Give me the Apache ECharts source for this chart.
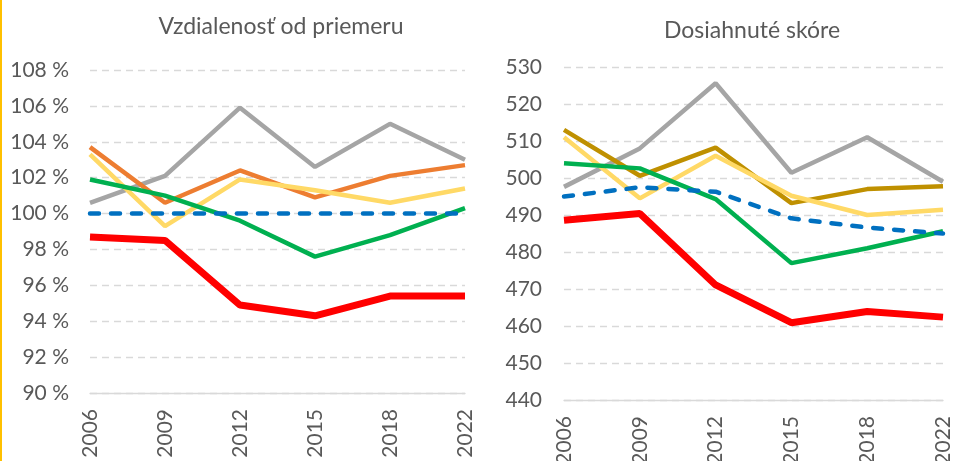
<!DOCTYPE html>
<html>
<head>
<meta charset="utf-8">
<script src="https://cdn.jsdelivr.net/npm/echarts@6/dist/echarts.min.js"></script>
<style>
  html, body { margin: 0; padding: 0; background: #fff; }
  #wrap { width: 958px; height: 461px; position: relative; }
  #bar { position: absolute; left: 0; top: 0; width: 2px; height: 461px; background: #FFC000; }
  #chart { width: 958px; height: 461px; }
</style>
</head>
<body>
<div id="wrap">
  <div id="chart"></div>
  <div id="bar"></div>
</div>
<script>
  // roky
  var years = ['2006', '2009', '2012', '2015', '2018', '2022']

  // vzdialenost od priemeru (%)
  var distGray = [100.6, 102.1, 105.9, 102.6, 105.0, 103.0]
  var distOrange = [103.7, 100.6, 102.4, 100.9, 102.1, 102.7]
  var distYellow = [103.3, 99.3, 101.9, 101.3, 100.6, 101.4]
  var distGreen = [101.9, 101.0, 99.6, 97.6, 98.8, 100.3]
  var distBlue = [100, 100, 100, 100, 100, 100]
  var distRed = [98.7, 98.5, 94.9, 94.3, 95.4, 95.4]

  // dosiahnute skore
  var scoreGray = [497.6, 508, 525.6, 501.4, 511, 499]
  var scoreGold = [513, 500.6, 508.2, 493.2, 497, 497.8]
  var scoreYellow = [511, 494.5, 506, 495.2, 490, 491.4]
  var scoreGreen = [504, 502.6, 494.3, 477, 481, 485.6]
  var scoreBlue = [495, 497.5, 496.3, 489.1, 486.6, 485]
  var scoreRed = [488.6, 490.4, 471.1, 460.9, 463.9, 462.4]

  var font = 'Lato, "Open Sans", sans-serif'
  var textColor = '#595959'

  function line(name, data, color, width, idx, dashed) {
    return {
      name: name,
      type: 'line',
      xAxisIndex: idx,
      yAxisIndex: idx,
      data: data,
      symbol: 'none',
      silent: true,
      lineStyle: {
        color: color,
        width: width,
        type: dashed ? [9, 12] : 'solid',
        cap: dashed ? 'round' : 'butt'
      }
    }
  }

  function xAx(idx) {
    return {
      type: 'category',
      gridIndex: idx,
      data: years,
      boundaryGap: false,
      axisLine: { lineStyle: { color: '#D9D9D9', width: 1.3 } },
      axisTick: { show: false },
      axisLabel: { rotate: 90, color: textColor, fontSize: 21, fontFamily: font, margin: 16 }
    }
  }

  function yAx(idx, min, max, step, marg, fmt) {
    return {
      type: 'value',
      gridIndex: idx,
      min: min,
      max: max,
      interval: step,
      axisLine: { show: false },
      axisTick: { show: false },
      splitLine: { lineStyle: { color: '#D9D9D9', width: 1.3, type: [7, 5] } },
      axisLabel: { color: textColor, fontSize: 21, fontFamily: font, margin: marg, formatter: fmt }
    }
  }

  var myChart = echarts.init(document.getElementById('chart'))
  myChart.setOption({
    animation: false,
    title: [
      { text: 'Vzdialenosť od priemeru', left: 276, top: 10, textAlign: 'center',
        textStyle: { color: textColor, fontSize: 23, fontWeight: 'normal', fontFamily: font } },
      { text: 'Dosiahnuté skóre', left: 747, top: 14, textAlign: 'center',
        textStyle: { color: textColor, fontSize: 23, fontWeight: 'normal', fontFamily: font } }
    ],
    grid: [
      { left: 90, right: 493, top: 70, bottom: 68, containLabel: false, outerBoundsMode: 'none' },
      { left: 564, right: 15, top: 67, bottom: 61, containLabel: false, outerBoundsMode: 'none' }
    ],
    xAxis: [xAx(0), xAx(1)],
    yAxis: [
      yAx(0, 90, 108, 2, 21, function (v) { return v + ' %' }),
      yAx(1, 440, 530, 10, 22)
    ],
    series: [
      line('gray', distGray, '#A5A5A5', 4.5, 0),
      line('orange', distOrange, '#ED7D31', 4.5, 0),
      line('yellow', distYellow, '#FFD966', 4.5, 0),
      line('green', distGreen, '#00B050', 4.5, 0),
      line('blue', distBlue, '#0070C0', 4.5, 0, true),
      line('red', distRed, '#FF0000', 7, 0),

      line('gray', scoreGray, '#A5A5A5', 4.5, 1),
      line('gold', scoreGold, '#BF9000', 4.5, 1),
      line('yellow', scoreYellow, '#FFD966', 4.5, 1),
      line('green', scoreGreen, '#00B050', 4.5, 1),
      line('blue', scoreBlue, '#0070C0', 4.5, 1, true),
      line('red', scoreRed, '#FF0000', 7, 1)
    ]
  })
</script>
</body>
</html>
